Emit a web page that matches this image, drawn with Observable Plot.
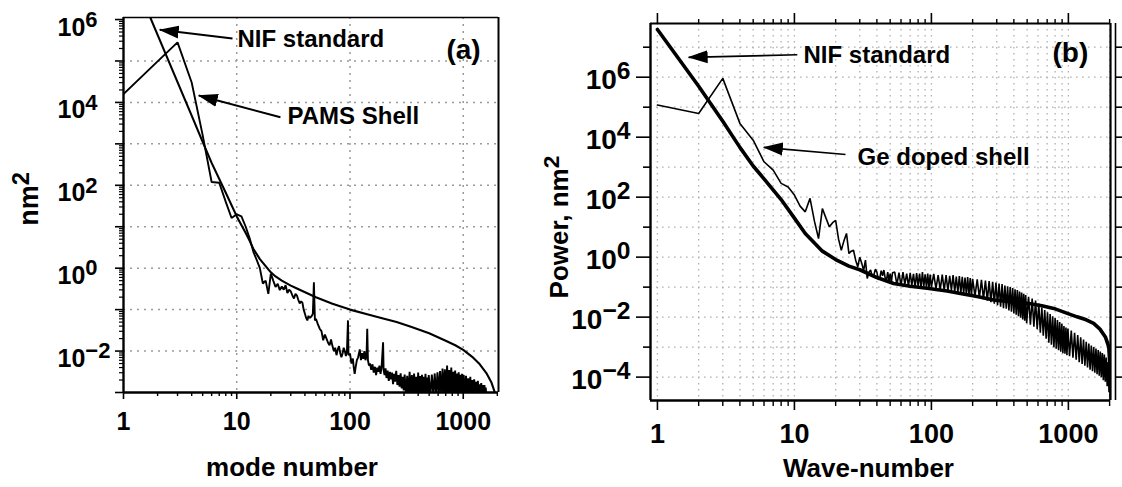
<!DOCTYPE html>
<html><head><meta charset="utf-8">
<script src="https://cdn.jsdelivr.net/npm/d3@7"></script>
<script src="https://cdn.jsdelivr.net/npm/@observablehq/plot@0.6"></script>
<style>
body{margin:0;background:#fff;}
#wrap{position:relative;width:1122px;height:487px;overflow:hidden;background:#fff;}
#pa{position:absolute;left:0;top:0;}
#pb{position:absolute;left:530px;top:0;}
</style></head><body><div id="wrap"><div id="pa"></div><div id="pb"></div></div>
<script>
// ---------- DATA (mode number, log10 of power in nm^2) ----------
// Panel (a)
const nifA = [[1,7.6],[1.5,6.44],[2,5.63],[3,4.49],[4,3.68],[5,3.05],[6,2.54],[8,1.82],[10,1.25],[12,0.85],[13,0.66],[14,0.47],[16,0.22],[18,0.05],[20,-0.1],[22,-0.2],[25,-0.3],[30,-0.42],[34,-0.49],[50,-0.7],[70,-0.86],[100,-1.0],[150,-1.13],[200,-1.22],[258,-1.3],[350,-1.42],[500,-1.57],[700,-1.75],[850,-1.86],[1000,-1.97],[1200,-2.14],[1400,-2.32],[1600,-2.53],[1770,-2.75],[1900,-3.0],[2000,-3.4]];
const pamsA = [[1,4.2],[2,4.99],[3,5.45],[4,4.48],[5,3.21],[6,2.08],[7,2.06],[8,1.6],[9,1.21],[10,1.3],[11,1.25],[12,1.0],[13,0.72],[14,0.4],[15,0.2],[16,0.0],[17,-0.37],[18,-0.3],[19,-0.62],[20,-0.13],[21,-0.3],[22,-0.45],[23,-0.38],[24,-0.53],[25,-0.44],[26,-0.52],[27,-0.41],[28,-0.6],[29,-0.52],[30,-0.56],[31,-0.66],[32,-0.73],[33,-0.62],[34,-0.66],[35,-0.77],[36,-0.85],[37,-0.8],[38,-0.83],[39,-1.0],[40,-1.1],[41,-1.2],[42,-1.26],[43,-1.15],[44,-1.2],[45,-1.18],[46,-1.15],[47,-1.1],[48,-0.34],[49,-1.26],[50,-1.22],[52,-1.35],[54,-1.46],[56,-1.52],[58,-1.74],[60,-1.6],[62,-1.7],[64,-1.8],[66,-1.86],[68,-1.72],[70,-1.88],[72,-2.0],[74,-1.92],[76,-2.1],[78,-1.96],[80,-1.88],[82,-2.05],[84,-2.15],[86,-2.06],[88,-1.92],[90,-2.0],[92,-2.12],[94,-2.0],[96,-1.26],[97,-2.1],[100,-2.06],[103,-2.3],[106,-2.18],[108,-2.4],[110,-2.55],[112,-2.4],[115,-2.22],[118,-2.15],[122,-1.96],[125,-2.22],[128,-2.05],[131,-2.19],[134,-2.0],[137,-2.22],[140,-2.1],[142,-1.46],[144,-2.22],[147,-2.35],[150,-2.3],[154,-2.45],[158,-2.32],[162,-2.52],[166,-2.38],[170,-2.58],[174,-2.4],[178,-2.5],[182,-2.35],[186,-2.55],[190,-2.4],[196,-1.79],[198,-2.45],[202,-2.58],[206,-2.42],[210,-2.65],[215,-2.47],[220,-2.72],[225,-2.5],[230,-2.68],[235,-2.52],[240,-2.8],[245,-2.55],[250,-2.74],[256,-2.48],[262,-2.82],[268,-2.58],[274,-2.86],[280,-2.54],[286,-2.9],[292,-2.62],[298,-2.95],
[304,-2.57],[312,-3.05],[320,-2.6],[328,-3.1],[336,-2.5],[344,-3.05],[352,-2.58],[360,-3.1],[368,-2.54],[376,-3.05],[384,-2.62],[392,-3.1],[400,-2.52],[408,-3.05],[416,-2.6],[424,-3.1],[432,-2.57],[440,-3.05],[448,-2.62],[456,-3.1],[464,-2.55],[472,-3.05],[480,-2.64],[488,-3.1],[496,-2.58],[512,-3.1],[528,-2.57],[544,-3.05],[560,-2.54],[576,-3.1],[592,-2.51],[608,-3.05],[624,-2.48],[640,-3.1],[656,-2.42],[672,-3.05],[688,-2.44],[704,-3.1],[720,-2.35],[736,-3.05],[752,-2.46],[768,-3.1],[784,-2.4],[800,-3.05],[816,-2.5],[832,-3.1],[848,-2.47],[864,-3.05],[880,-2.54],[896,-3.1],[912,-2.51],[928,-3.05],[944,-2.57],[960,-3.1],[976,-2.55],[992,-3.05],[1010,-2.58],[1034,-3.1],[1058,-2.6],[1082,-3.05],[1106,-2.66],[1130,-3.1],[1154,-2.62],[1178,-3.05],[1202,-2.7],[1226,-3.1],[1250,-2.68],[1274,-3.05],[1298,-2.74],[1322,-3.1],[1346,-2.72],[1370,-3.05],[1394,-2.8],[1418,-3.1],[1442,-2.77],[1466,-3.05],[1490,-2.82],[1514,-3.1],[1538,-2.82],[1562,-3.05],[1580,-2.88],[1600,-3.1]];

// Panel (b)
const nifB = [[1,7.59],[2,5.7],[3,4.53],[4,3.66],[5,3.04],[6,2.61],[8,1.92],[10,1.3],[12,0.79],[14,0.47],[16,0.2],[20,-0.08],[25,-0.3],[30,-0.42],[40,-0.68],[53,-0.88],[70,-0.97],[93,-1.04],[130,-1.13],[163,-1.21],[220,-1.32],[285,-1.43],[380,-1.49],[500,-1.54],[640,-1.62],[782,-1.71],[950,-1.85],[1156,-1.99],[1350,-2.09],[1530,-2.21],[1700,-2.4],[1862,-2.66],[1972,-2.99],[2010,-3.6],[2025,-4.2]];
const geB = [[1,5.07],[2,4.79],[3,5.96],[4,4.46],[5,3.9],[6,3.18],[7,2.9],[8,2.46],[9,2.34],[10,2.07],[11,1.7],[12,1.51],[13,1.96],[14,1.2],[15,0.62],[16,1.62],[17,1.3],[18,1.01],[19,1.15],[20,1.23],[21,0.6],[22,0.23],[23,0.55],[24,0.79],[25,0.12],[26,0.2],[27,0.23],[28,-0.1],[29,-0.32],[30,0.0],[31,-0.2],[32,-0.45],[33,-0.1],[34,-0.71],[35,-0.5],[36,-0.43],[37,-0.65],[38,-0.6],[39,-0.4],[40,-0.5],[41,-0.75],[42,-0.7],[43,-0.45],[44,-0.62],[45,-0.43],[46,-0.7],[47,-0.77],[48,-0.5],[49,-0.8],[50,-0.55],[51,-0.85],[52,-0.52],
[54,-0.5],[56,-0.92],[58,-0.52],[60,-0.95],[62,-0.5],[64,-0.9],[66,-0.55],[68,-0.97],[70,-0.52],[72,-0.93],[74,-0.56],[76,-1.0],[78,-0.53],[80,-0.96],[82,-0.55],[84,-1.02],[86,-0.5],[88,-0.98],[90,-0.57],[92,-1.0],[94,-0.55],[96,-1.04],[98,-0.58],[100,-1.0],
[104,-0.56],[108,-1.05],[112,-0.6],[116,-1.08],[120,-0.58],[124,-1.1],[128,-0.6],[132,-1.12],[136,-0.62],[140,-1.1],[144,-0.6],[148,-1.15],[152,-0.65],[156,-1.18],[160,-0.63],[164,-1.2],[168,-0.66],[172,-1.22],[176,-0.68],[180,-1.25],[184,-0.66],[188,-1.27],[192,-0.7],[196,-1.3],[200,-0.72],
[208,-1.3],[216,-0.74],[224,-1.35],[232,-0.76],[240,-1.4],[248,-0.78],[256,-1.45],[264,-0.8],[272,-1.5],[280,-0.82],[288,-1.55],[296,-0.85],[304,-1.6],[312,-0.88],[320,-1.65],[328,-0.9],[336,-1.7],[344,-0.95],[352,-1.72],[360,-0.97],[368,-1.78],[376,-1.0],[384,-1.82],[392,-1.03],[400,-1.88],[408,-1.07],[416,-1.92],[424,-1.1],[432,-1.97],[440,-1.15],[448,-2.02],[456,-1.18],[464,-2.08],[472,-1.22],[480,-2.12],[488,-1.26],[496,-2.2],
[512,-1.32],[528,-2.25],[544,-1.38],[560,-2.32],[576,-1.45],[592,-2.4],[608,-1.55],[624,-2.52],[640,-1.68],[656,-2.62],[672,-1.76],[688,-2.72],[704,-1.84],[720,-2.85],[736,-1.9],[752,-2.92],[768,-1.97],[784,-3.0],[800,-2.03],[816,-3.05],[832,-2.1],[848,-3.1],[864,-2.16],[880,-3.15],[896,-2.22],[912,-3.2],[928,-2.3],[944,-3.22],[960,-2.35],[976,-3.27],[992,-2.38],
[1020,-3.3],[1050,-2.45],[1080,-3.35],[1110,-2.52],[1140,-3.42],[1170,-2.6],[1200,-3.5],[1230,-2.67],[1260,-3.56],[1290,-2.75],[1320,-3.62],[1350,-2.82],[1380,-3.68],[1410,-2.88],[1440,-3.75],[1470,-2.95],[1500,-3.8],[1530,-3.0],[1560,-3.85],[1590,-3.05],[1620,-3.9],[1650,-3.1],[1680,-3.95],[1710,-3.15],[1740,-4.0],[1770,-3.2],[1800,-4.1],[1830,-3.25],[1860,-4.15],[1890,-3.35],[1920,-4.3],[1950,-3.5],[1980,-4.5],[2000,-3.9],[2020,-5.0]];

// Axes / ticks
const xDomA = [1, 2048], yDomA = [1e-3, 1.12e6];
const xDomB = [0.89, 2030], yDomB = [1.66e-5, 6.17e7];
const xMajorTicks = [1, 10, 100, 1000];
const xMinorTicks = [2,3,4,5,6,7,8,9,20,30,40,50,60,70,80,90,200,300,400,500,600,700,800,900,2000];
const yExpA = [-3,-2,-1,0,1,2,3,4,5,6];
const yLabelExpA = [-2,0,2,4,6];
const yExpB = [-4,-3,-2,-1,0,1,2,3,4,5,6,7];
const yLabelExpB = [-4,-2,0,2,4,6];

// Annotations
const arrowsA = [{x1:9.17,y1:3.5e5,x2:2.09,y2:5.65e5},{x1:24.3,y1:4.4e3,x2:4.62,y2:1.47e4}];
const labelsA = [{x:10.15,y:3.35e5,text:"NIF standard"},{x:28.1,y:4.64e3,text:"PAMS Shell"}];
const tagA = [{x:1005,y:1.82e5,text:"(a)"}];
const arrowsB = [{x1:10.5,y1:5.6e6,x2:1.69,y2:4.6e6},{x1:23.6,y1:2.65e3,x2:5.98,y2:4.6e3}];
const labelsB = [{x:11.65,y:5.4e6,text:"NIF standard"},{x:28.9,y:2.15e3,text:"Ge doped shell"}];
const tagB = [{x:1035,y:6.3e6,text:"(b)"}];

// ---------- RENDER ----------
const FONT = "'Liberation Sans', Arial, Helvetica, sans-serif";
const pw = e => 10 ** e;
const expLabel = e => "10^" + String(e).replace("-", "\u2212");
const minorFrom = exps => exps.slice(0, -1).flatMap(e => [2,3,4,5,6,7,8,9].map(k => k * 10 ** e));

function solidHead(color) {
  const NS = "http://www.w3.org/2000/svg";
  const m = document.createElementNS(NS, "marker");
  m.setAttribute("viewBox", "0 -7 20 14");
  m.setAttribute("markerWidth", "20");
  m.setAttribute("markerHeight", "14");
  m.setAttribute("markerUnits", "userSpaceOnUse");
  m.setAttribute("refX", "19");
  m.setAttribute("refY", "0");
  m.setAttribute("orient", "auto");
  const p = document.createElementNS(NS, "path");
  p.setAttribute("d", "M0,-6.5L20,0L0,6.5Z");
  p.setAttribute("fill", color || "black");
  p.setAttribute("stroke", "none");
  m.appendChild(p);
  return m;
}

const style = {background: "white", color: "black", fontFamily: FONT, fontWeight: "bold", overflow: "visible"};
const gridA = {stroke: "#9a9a9a", strokeOpacity: 1, strokeWidth: 1.5, strokeDasharray: "2,5"};
const gridB = {stroke: "#b0b0b0", strokeOpacity: 1, strokeWidth: 1.3, strokeDasharray: "1.6,4.4"};

function build(head) {
  const a = Plot.plot({
    width: 530, height: 487, marginLeft: 123, marginRight: 32, marginTop: 17, marginBottom: 95,
    x: {type: "log", domain: xDomA}, y: {type: "log", domain: yDomA},
    style,
    marks: [
      Plot.gridY(yExpA.slice(1, -1).map(pw), gridA),
      Plot.gridX([10, 100, 1000], gridA),
      Plot.line(nifA, {x: d => d[0], y: d => pw(d[1]), stroke: "black", strokeWidth: 2.1, clip: true}),
      Plot.line(pamsA, {x: d => d[0], y: d => pw(d[1]), stroke: "black", strokeWidth: 1.9, strokeLinejoin: "miter", clip: true}),
      Plot.ruleX([xDomA[0]], {strokeWidth: 2.4}),
      Plot.ruleY([yDomA[0]], {strokeWidth: 2.4}),
      Plot.ruleY([yDomA[1]], {strokeWidth: 1.5}),
      Plot.ruleX([xDomA[1]], {strokeWidth: 2}),
      Plot.axisX(xMajorTicks, {anchor: "bottom", tickSize: 7, tickPadding: 13, strokeWidth: 1.6, tickFormat: d => String(d), fontSize: 25, fontWeight: "bold", label: null}),
      Plot.axisX(xMinorTicks, {anchor: "bottom", tickSize: 4, strokeWidth: 1.4, tickFormat: () => "", label: null}),
      Plot.axisY(yExpA.map(pw), {anchor: "left", tickSize: 8, strokeWidth: 1.6, tickFormat: () => "", label: null}),
      Plot.axisY(minorFrom(yExpA), {anchor: "left", tickSize: 4, strokeWidth: 1.2, tickFormat: () => "", label: null}),
      Plot.text(yLabelExpA, {y: pw, text: expLabel, frameAnchor: "left", dx: -66, dy: 8, textAnchor: "start", lineAnchor: "middle", fontSize: 25, fontWeight: "bold"}),
      Plot.text(["mode number"], {text: d => d, frameAnchor: "bottom", textAnchor: "middle", lineAnchor: "middle", dx: -19, dy: 75, fontSize: 26, fontWeight: "bold"}),
      Plot.text(["nm^2"], {text: d => d, frameAnchor: "left", textAnchor: "middle", lineAnchor: "middle", rotate: -90, dx: -94, dy: -6, fontSize: 27, fontWeight: "bold"}),
      Plot.link(arrowsA, {x1: "x1", y1: "y1", x2: "x2", y2: "y2", stroke: "black", strokeWidth: 2, markerEnd: head}),
      Plot.text(labelsA, {x: "x", y: "y", text: "text", textAnchor: "start", lineAnchor: "middle", fontSize: 24, fontWeight: "bold"}),
      Plot.text(tagA, {x: "x", y: "y", text: "text", lineAnchor: "middle", fontSize: 28, fontWeight: "bold"})
    ]
  });
  const b = Plot.plot({
    width: 592, height: 487, marginLeft: 120, marginRight: 12, marginTop: 23, marginBottom: 87,
    x: {type: "log", domain: xDomB}, y: {type: "log", domain: yDomB},
    style,
    marks: [
      Plot.gridY(yExpB.map(pw), gridB),
      Plot.gridX([...xMajorTicks, ...xMinorTicks], gridB),
      Plot.line(geB, {x: d => d[0], y: d => pw(d[1]), stroke: "black", strokeWidth: 1.6, strokeLinejoin: "miter", clip: true}),
      Plot.line(nifB, {x: d => d[0], y: d => pw(d[1]), stroke: "black", strokeWidth: 3.6, clip: true}),
      Plot.ruleX([xDomB[0]], {strokeWidth: 2.4}),
      Plot.ruleY([yDomB[0]], {strokeWidth: 2.4}),
      Plot.ruleY([yDomB[1]], {strokeWidth: 2}),
      Plot.ruleX([xDomB[1]], {strokeWidth: 2.2}),
      Plot.ruleX([xDomB[1]], {dx: 5, strokeWidth: 1.6}),
      Plot.axisX(xMajorTicks, {anchor: "bottom", tickSize: 10, tickPadding: 13, strokeWidth: 1.6, tickFormat: d => String(d), fontSize: 27, fontWeight: "bold", label: null}),
      Plot.axisX(xMinorTicks, {anchor: "bottom", tickSize: 6, strokeWidth: 1.4, tickFormat: () => "", label: null}),
      Plot.axisX(xMajorTicks, {anchor: "top", tickSize: 11, strokeWidth: 1.6, tickFormat: () => "", label: null}),
      Plot.axisX(xMinorTicks, {anchor: "top", tickSize: 5, strokeWidth: 1.4, tickFormat: () => "", label: null}),
      Plot.axisY(yLabelExpB.map(pw), {anchor: "left", tickSize: 14, strokeWidth: 1.6, tickFormat: () => "", label: null}),
      Plot.axisY(yExpB.filter(e => !yLabelExpB.includes(e)).map(pw), {anchor: "left", tickSize: 7, strokeWidth: 1.6, tickFormat: () => "", label: null}),
      Plot.axisY(yExpB.map(pw), {anchor: "right", dx: 5, tickSize: 8, strokeWidth: 1.6, tickFormat: () => "", label: null}),
      Plot.text(yLabelExpB, {y: pw, text: expLabel, frameAnchor: "left", dx: -20, dy: 3, textAnchor: "end", lineAnchor: "middle", fontSize: 28, fontWeight: "bold"}),
      Plot.text(["Wave-number"], {text: d => d, frameAnchor: "bottom", textAnchor: "middle", lineAnchor: "middle", dx: -12, dy: 68, fontSize: 26, fontWeight: "bold"}),
      Plot.text(["Power, nm^2"], {text: d => d, frameAnchor: "left", textAnchor: "middle", lineAnchor: "middle", rotate: -90, dx: -91, dy: 15, fontSize: 26, fontWeight: "bold"}),
      Plot.link(arrowsB, {x1: "x1", y1: "y1", x2: "x2", y2: "y2", stroke: "black", strokeWidth: 1.7, markerEnd: head}),
      Plot.text(labelsB, {x: "x", y: "y", text: "text", textAnchor: "start", lineAnchor: "middle", fontSize: 24, fontWeight: "bold"}),
      Plot.text(tagB, {x: "x", y: "y", text: "text", lineAnchor: "middle", fontSize: 28, fontWeight: "bold"})
    ]
  });
  return [a, b];
}

let charts;
try { charts = build(solidHead); } catch (e) { charts = build("arrow"); }

function supify(svg) {
  d3.select(svg).selectAll("text").each(function () {
    const s = this.textContent;
    const i = s.indexOf("^");
    if (i < 0) return;
    const t = d3.select(this);
    t.text(null);
    t.append("tspan").text(s.slice(0, i));
    t.append("tspan").attr("dy", "-0.4em").attr("font-size", "0.88em").text(s.slice(i + 1));
  });
}
charts.forEach(supify);
document.getElementById("pa").appendChild(charts[0]);
document.getElementById("pb").appendChild(charts[1]);
</script></body></html>
